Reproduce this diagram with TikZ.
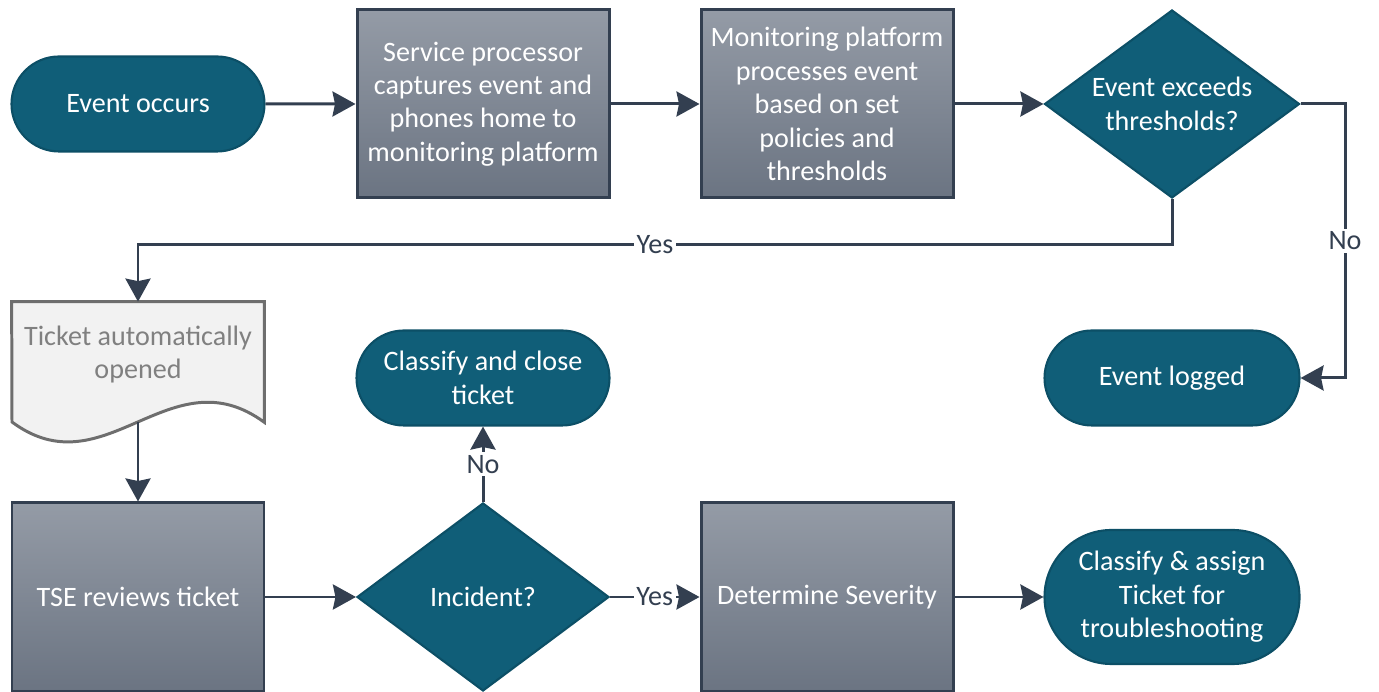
\documentclass[tikz,border=0pt]{standalone}
\usepackage{fontspec}
\setmainfont{Carlito}
\usetikzlibrary{shapes.geometric,shapes.misc,arrows.meta,calc}

\definecolor{evtblue}{HTML}{105E78}
\definecolor{evtedge}{HTML}{0C4F66}
\definecolor{procedge}{HTML}{333F50}
\definecolor{proctop}{HTML}{949BA6}
\definecolor{procbottom}{HTML}{6B7482}
\definecolor{docfill}{HTML}{F2F2F2}
\definecolor{docedge}{HTML}{6E6E6E}
\definecolor{docfont}{HTML}{808080}

\begin{document}
\begin{tikzpicture}[
  every node/.style={font=\fontsize{16}{19}\selectfont},
  terminal/.style={rounded rectangle, fill=evtblue, draw=evtedge, line width=1.2pt,
    text=white, align=center, inner sep=0pt, minimum width=5.06cm, minimum height=1.9cm},
  procbox/.style={rectangle, draw=procedge, line width=1.7pt, top color=proctop,
    bottom color=procbottom, text=white, align=center, minimum width=5.04cm, minimum height=3.76cm},
  decision/.style={diamond, aspect=1.36, fill=evtblue, draw=evtedge, line width=1.2pt, text=white,
    align=center, inner sep=0pt, minimum width=5.1cm, minimum height=3.76cm},
  flow/.style={draw=procedge, line width=1.7pt, -{Stealth[length=0.46cm,width=0.5cm,inset=0.05cm]}},
  answer/.style={fill=white, text=procedge, inner sep=1.5pt}]

\useasboundingbox (0,0) rectangle (27.58,13.84);

% top row
\node (occurs) at (2.76,11.76) [terminal] {Event occurs};
\node (capture) at (9.66,11.76) [procbox] {Service processor\\captures event and\\phones home to\\monitoring platform};
\node (process) at (16.54,11.76) [procbox] {Monitoring platform\\processes event\\based on set\\policies and\\thresholds};
\node (exceeds) at (23.44,11.76) [decision] {Event exceeds\\thresholds?};

% ticket document, wavy bottom
\node (opened) at (2.76,6.75) [minimum width=5.04cm, minimum height=2.1cm, inner sep=0pt] {};
\draw [docedge, fill=docfill, line width=1.7pt]
  (opened.north west) -- (opened.north east) -- ($(opened.south east)+(0,-0.3)$)
  .. controls (3.4,6.78) and (2.1,4.02) .. (0.24,5.4) -- cycle;
\node at (opened) [text=docfont, align=center] {Ticket automatically\\opened};
\coordinate (openedfoot) at ($(opened.south)+(0,-0.3)$);

\node (close) at (9.66,6.28) [terminal] {Classify and close\\ticket};
\node (logged) at (23.44,6.28) [terminal, minimum width=5.1cm] {Event logged};

% bottom row
\node (tse) at (2.76,1.9) [procbox] {TSE reviews ticket};
\node (incident) at (9.66,1.9) [decision, minimum width=5.04cm] {Incident?};
\node (severity) at (16.54,1.9) [procbox] {Determine Severity};
\node (assign) at (23.44,1.9) [terminal, minimum width=5.1cm, minimum height=2.68cm] {Classify \& assign\\Ticket for\\troubleshooting};

% connectors
\coordinate (yesturn) at (2.76,8.94);
\coordinate (nobend) at (26.9,6.28);

\draw [flow] (occurs) -- (capture);
\draw [flow] (capture) -- (process);
\draw [flow] (process) -- (exceeds);
\draw [flow] (exceeds.south) |- node [answer, pos=0.75] {Yes} (yesturn) -- (opened.north);
\draw [flow] (exceeds.east) -| node [answer, pos=0.75] {No} (nobend) -- (logged.east);
\draw [flow] (openedfoot) -- (tse.north);
\draw [flow] (tse) -- (incident);
\draw [flow] (incident.north) -- node [answer] {No} (close.south);
\draw [flow] (incident.east) -- node [answer] {Yes} (severity.west);
\draw [flow] (severity) -- (assign);

\end{tikzpicture}
\end{document}
